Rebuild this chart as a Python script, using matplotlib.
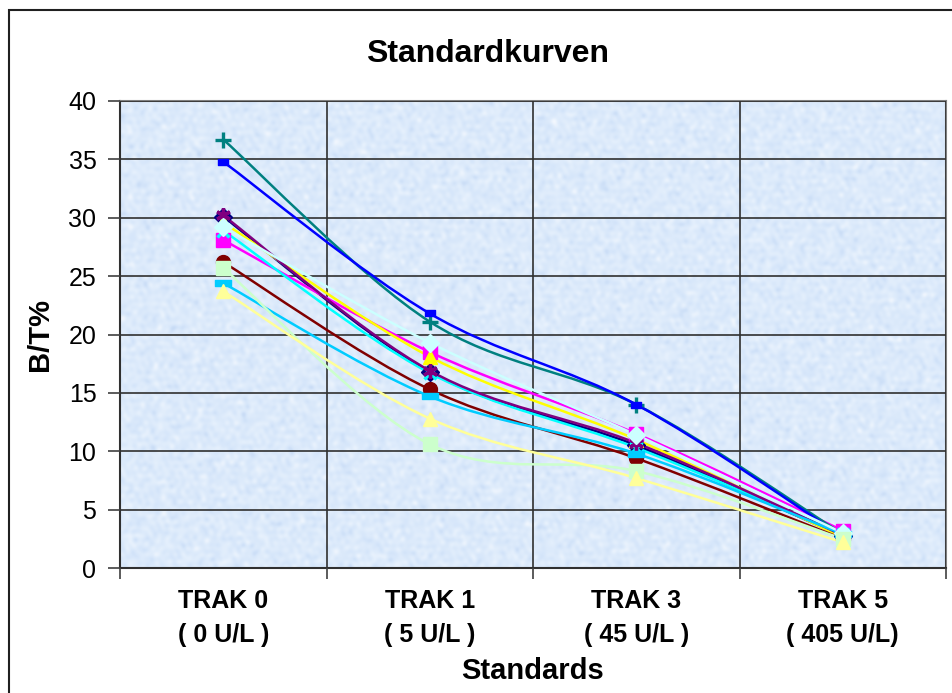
import numpy as np
import matplotlib
matplotlib.use("Agg")
import matplotlib.pyplot as plt
from matplotlib.path import Path
from matplotlib.patches import PathPatch, Rectangle
from matplotlib.colors import LinearSegmentedColormap

plt.rcParams['font.family'] = ['Liberation Sans', 'DejaVu Sans']

categories = ["TRAK 0\n( 0 U/L )", "TRAK 1\n( 5 U/L )", "TRAK 3\n( 45 U/L )", "TRAK 5\n( 405 U/L)"]

# one list per standard curve (B/T% at each calibrator)
s1 = [30.1, 16.8, 10.5, 2.7]
s2 = [28.1, 18.5, 11.5, 3.2]
s3 = [29.6, 18.1, 11.0, 2.6]
s4 = [28.9, 16.7, 10.3, 2.9]
s5 = [30.2, 16.9, 10.7, 2.8]
s6 = [26.2, 15.3, 9.4, 2.5]
s7 = [36.7, 21.1, 14.0, 2.9]
s8 = [34.8, 21.8, 14.0, 2.7]
s9 = [24.4, 14.7, 9.8, 2.9]
s10 = [29.2, 19.3, 11.4, 3.0]
s11 = [25.7, 10.6, 8.3, 2.5]
s12 = [23.7, 12.8, 7.7, 2.2]
series = [s1, s2, s3, s4, s5, s6, s7, s8, s9, s10, s11, s12]

colors = ["#000080", "#FF00FF", "#FFFF00", "#00FFFF", "#800080", "#800000",
          "#008080", "#0000FF", "#00CCFF", "#CCFFFF", "#CCFFCC", "#FFFF99"]

short_bar = Path([(-1, -0.6), (1, -0.6), (1, 0.6), (-1, 0.6), (-1, -0.6)], closed=True)
long_bar = Path([(-1, -0.38), (1, -0.38), (1, 0.38), (-1, 0.38), (-1, -0.38)], closed=True)
markers = ["D", "s", "^", "x", (6, 2, 0), "o", "+", short_bar, long_bar, "D", "s", "^"]
msizes = [9, 9.5, 10, 9, 10.5, 10, 11, 7.5, 11.5, 9, 9.5, 10]


def smooth_path(xs, ys):
    # Bezier segments with Catmull-Rom style tangents (like a spreadsheet "smoothed line")
    pts = np.column_stack([xs, ys]).astype(float)
    n = len(pts)
    verts = [pts[0]]
    codes = [Path.MOVETO]
    for i in range(n - 1):
        p0 = pts[max(i - 1, 0)]
        p1 = pts[i]
        p2 = pts[i + 1]
        p3 = pts[min(i + 2, n - 1)]
        c1 = p1 + (p2 - p0) / 6.0
        c2 = p2 - (p3 - p1) / 6.0
        verts += [c1, c2, p2]
        codes += [Path.CURVE4] * 3
    return Path(verts, codes)


fig = plt.figure(figsize=(9.52, 6.93), dpi=100)
ax = fig.add_axes([120 / 952, 1 - 568 / 693, 826 / 952, 467 / 693])

# mottled blue paper background: many plane waves at spread-out angles
gx, gy = np.meshgrid(np.linspace(0, 8.26, 826), np.linspace(0, 4.67, 467))
tex = np.zeros_like(gx)
for k in range(40):
    ang = k * 2.39996
    freq = 3.0 + (k * 7 % 23) * 0.55
    tex += np.sin(2 * np.pi * freq * (np.cos(ang) * gx + np.sin(ang) * gy) + k * 1.37) / (1 + 0.04 * freq)
tex = (tex - tex.min()) / (tex.max() - tex.min())
paper = LinearSegmentedColormap.from_list("paper", ["#c6daf5", "#d6e6fa", "#e2eefc", "#f2f7fe"])
ax.imshow(tex, extent=(-0.5, 3.5, 0, 40), aspect="auto", cmap=paper,
          interpolation="bilinear", zorder=0)

x = np.arange(len(categories))
for ys, c, m, ms in zip(series, colors, markers, msizes):
    ax.add_patch(PathPatch(smooth_path(x, ys), facecolor="none", edgecolor=c,
                           lw=1.8, zorder=3))
    thick = m in ("x", "+") or isinstance(m, tuple)
    ax.plot(x, ys, linestyle="none", marker=m, markersize=ms, color=c,
            markerfacecolor=c, markeredgecolor=c, markeredgewidth=2.4 if thick else 1,
            zorder=4)

ax.set_xlim(-0.5, 3.5)
ax.set_ylim(0, 40)
ax.set_yticks(np.arange(0, 41, 5))
ax.set_xticks(x)
ax.set_xticklabels(categories, fontsize=18, fontweight="bold", linespacing=1.55)
ax.set_xticks(np.arange(-0.5, 3.6, 1), minor=True)
ax.tick_params(axis="x", which="major", length=0, pad=15)
ax.tick_params(axis="x", which="minor", length=8, width=1.2, color="#404040", direction="out")
ax.tick_params(axis="y", length=9, width=1.2, color="#404040", pad=8, labelsize=18)

ax.grid(axis="y", which="major", color="#303030", lw=1.2, zorder=1)
ax.grid(axis="x", which="minor", color="#303030", lw=1.2, zorder=1)
ax.set_axisbelow(False)
for side, sp in ax.spines.items():
    sp.set_color("#808080")
    sp.set_linewidth(1.5)
ax.spines["left"].set_color("#303030")
ax.spines["bottom"].set_color("#303030")

ax.set_xlabel("Standards", fontsize=21, fontweight="bold", labelpad=7)
ax.set_ylabel("B/T%", fontsize=21, fontweight="bold", labelpad=10)
fig.text(488 / 952, 1 - 54 / 693, "Standardkurven", ha="center", va="center",
         fontsize=23, fontweight="bold")

# chart frame
fig.patches.append(Rectangle((9 / 952, -0.05), 1.1, 1 - 10 / 693 + 0.05, transform=fig.transFigure,
                             fill=False, edgecolor="#202020", lw=1.5))

fig.savefig("out.png", dpi=100)
